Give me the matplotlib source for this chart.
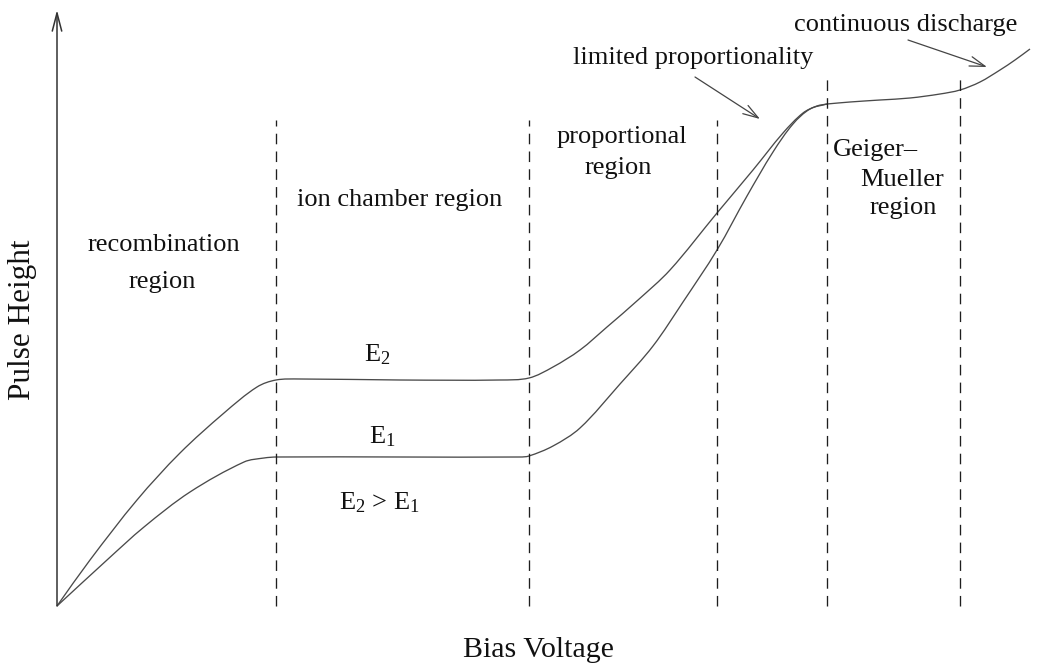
import math
import matplotlib
matplotlib.use("Agg")
import matplotlib.pyplot as plt
from matplotlib.path import Path
from matplotlib.patches import PathPatch

plt.rcParams["font.family"] = ["Liberation Serif", "DejaVu Serif"]
plt.rcParams["mathtext.fontset"] = "custom"
plt.rcParams["mathtext.rm"] = "Liberation Serif"
plt.rcParams["mathtext.it"] = "Liberation Serif:italic"
plt.rcParams["lines.scale_dashes"] = False

# Pulse height vs. bias voltage (arbitrary units) for two deposited energies
e2_voltage = [0, 33, 80, 123, 167, 200, 219, 243, 343, 443, 472, 496, 523, 550,
              581, 613, 660, 696, 726, 746, 760, 770]
e2_height = [0, 46, 106, 153, 193, 219, 226, 227, 226, 226, 228, 239, 256, 279,
             306, 336, 393, 436, 473, 493, 500, 502]

e1_voltage = [0, 50, 87, 133, 187, 207, 220, 343, 463, 472, 496, 523, 563, 596,
              626, 660, 690, 716, 736, 753, 770]
e1_height = [0, 46, 79, 114, 144, 148, 149, 149, 149, 150, 160, 178, 222, 260,
             304, 356, 410, 454, 482, 497, 502]

# Common branch beyond the point where both curves merge
gm_voltage = [770, 793, 823, 853, 883, 903, 923, 943, 958, 973]
gm_height = [502, 504, 506, 508, 512, 516, 524, 536, 546, 557]

# Region boundaries and the height of each dashed divider
boundaries = [219, 472, 660, 770, 903]
boundary_tops = [486, 486, 486, 531, 531]


def smooth_path(xs, ys):
    """Cubic Bezier path through every (x, y) point, tangents scaled by chord."""
    pts = list(zip(xs, ys))
    n = len(pts)

    def tangent(i):
        a = pts[max(i - 1, 0)]
        b = pts[min(i + 1, n - 1)]
        dx, dy = b[0] - a[0], b[1] - a[1]
        norm = math.hypot(dx, dy) or 1.0
        return dx / norm, dy / norm

    verts = [pts[0]]
    codes = [Path.MOVETO]
    for i in range(n - 1):
        p1, p2 = pts[i], pts[i + 1]
        seg = math.hypot(p2[0] - p1[0], p2[1] - p1[1]) / 3.0
        t1, t2 = tangent(i), tangent(i + 1)
        c1 = (p1[0] + t1[0] * seg, p1[1] + t1[1] * seg)
        c2 = (p2[0] - t2[0] * seg, p2[1] - t2[1] * seg)
        verts += [c1, c2, p2]
        codes += [Path.CURVE4] * 3
    return Path(verts, codes)


fig = plt.figure(figsize=(10.58, 6.64), dpi=100)
ax = fig.add_axes([0, 0, 1, 1])
ax.set_xlim(-57, 1001)
ax.set_ylim(-58, 606)
ax.axis("off")

curve_kw = dict(edgecolor="#4a4a4a", facecolor="none", lw=0.95, joinstyle="round")
for xs, ys in [(e2_voltage, e2_height), (e1_voltage, e1_height),
               (gm_voltage, gm_height)]:
    ax.add_patch(PathPatch(smooth_path(xs, ys), **curve_kw))

for xb, top in zip(boundaries, boundary_tops):
    ax.plot([xb, xb], [0, top], color="#1e1e1e", lw=0.95, dashes=(7.6, 5.2))

# Axes with open arrow heads
axis_style = "->,head_length=1.3,head_width=0.34"
ax.annotate("", xy=(0, 596), xytext=(0, 0),
            arrowprops=dict(arrowstyle=axis_style, color="#333333", lw=1.1,
                            shrinkA=0, shrinkB=0, mutation_scale=10))
ax.annotate("", xy=(1011, 0), xytext=(0, 0),
            arrowprops=dict(arrowstyle=axis_style, color="#555555", lw=1.3,
                            shrinkA=0, shrinkB=0, mutation_scale=10))

# Pointers to the short transition regions
ptr_style = "->,head_length=1.1,head_width=0.35"
ax.annotate("", xy=(703, 487), xytext=(638, 529),
            arrowprops=dict(arrowstyle=ptr_style, color="#444444", lw=0.9,
                            shrinkA=0, shrinkB=0, mutation_scale=10))
ax.annotate("", xy=(930, 539), xytext=(851, 566),
            arrowprops=dict(arrowstyle=ptr_style, color="#444444", lw=0.9,
                            shrinkA=0, shrinkB=0, mutation_scale=10))

txt = dict(fontsize=19, color="#111111", ha="center", va="center")
ax.text(849, 581, "continuous discharge", **txt)
ax.text(636, 548, "limited proportionality", **txt)
ax.text(565, 469, "proportional", **txt)
ax.text(561, 438, "region", **txt)
ax.text(776, 456, "Geiger\u2013", fontsize=19, color="#111111", ha="left", va="center")
ax.text(803, 426, "Mueller", fontsize=19, color="#111111", ha="left", va="center")
ax.text(813, 398, "region", fontsize=19, color="#111111", ha="left", va="center")
ax.text(343, 406, "ion chamber region", **txt)
ax.text(107, 361, "recombination", **txt)
ax.text(105, 324, "region", **txt)

ax.text(320, 251, r"E$_2$", **txt)
ax.text(325, 169, r"E$_1$", **txt)
ax.text(322, 103, r"E$_2$ > E$_1$", **txt)

ax.text(-34, 286, "Pulse Height", fontsize=22.5, color="#111111",
        rotation=90, ha="center", va="center")
ax.text(481, -44, "Bias Voltage", fontsize=21.5, color="#111111",
        ha="center", va="center")

fig.savefig("out.png", dpi=100, facecolor="white")
